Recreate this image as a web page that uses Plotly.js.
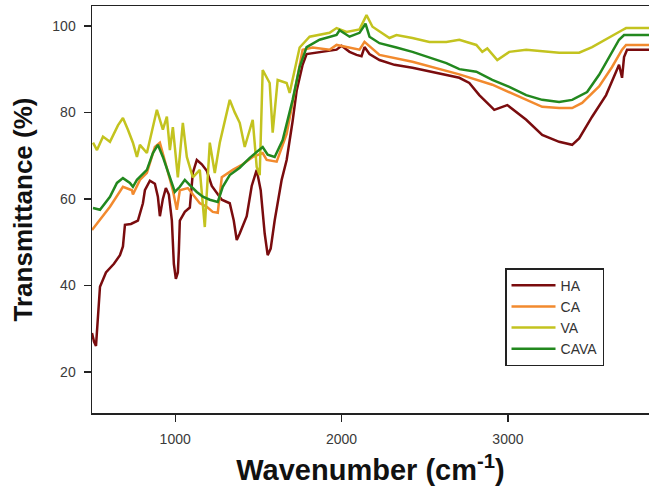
<!DOCTYPE html>
<html>
<head>
<meta charset="utf-8">
<script src="https://cdn.plot.ly/plotly-3.0.1.min.js"></script>
<style>
html,body{margin:0;padding:0;overflow:hidden;background:#fff;}
#chart{width:649px;height:489px;}
</style>
</head>
<body>
<div id="chart"></div>
<script>
// Wavenumber (cm-1) and transmittance (%)
const haX = [500,512,524,536,548,584,632,668,686,698,734,776,806,818,848,878,896,908,926,944,962,980,992,1004,1016,1022,1028,1058,1088,1106,1130,1160,1190,1220,1250,1280,1328,1352,1370,1388,1430,1460,1490,1514,1538,1556,1574,1598,1640,1670,1706,1730,1748,1766,1790,1868,1970,2000,2048,2090,2120,2138,2168,2228,2318,2426,2630,2708,2768,2828,2900,2918,2996,3110,3206,3308,3386,3428,3506,3590,3650,3668,3686,3698,3716,3850];
const haY = [29,27,26,33,39.7,43,45,47,49,54,54.2,55,59,62,64.2,63.5,60.5,56,60,62.5,61,55,45,41.5,43,48,55,57,58,66,69,68,66.5,63,61.4,59.8,59,55,50.5,52,56,63,66.7,62,52,47,48.5,55,64.4,69,78,85,88,91,93.5,94,94.5,95.4,94,93.3,93,95.1,93.5,92.1,91,90.3,88.7,88,86.8,84,81.3,80.6,81.7,78.3,74.8,73.2,72.5,74,79,84,89.4,91,88,92.8,94.5,94.5];

const caX = [500,608,686,740,746,788,830,878,908,938,986,1010,1028,1076,1118,1148,1190,1226,1256,1280,1346,1406,1466,1526,1550,1610,1670,1730,1766,1826,1928,1970,2048,2108,2138,2228,2426,2708,2906,3110,3206,3308,3386,3446,3548,3626,3686,3710,3850];
const caY = [52.8,58.2,62.8,62,61,64.4,66,72,73,69,62,57.5,62,62.5,60.5,59,58.2,57,56.8,65,66.7,68,69.7,70.6,69,68.6,75,86.8,94.5,95,94.5,95.6,95,94.5,96.3,93.3,91.7,88.8,86.4,82.9,81.3,81,81,82.2,86,90.5,94.5,95.6,95.6];

const vaX = [506,530,566,608,656,686,716,746,770,788,830,860,890,926,950,968,986,1016,1046,1070,1106,1148,1178,1208,1238,1268,1328,1358,1388,1418,1448,1466,1490,1508,1526,1568,1586,1616,1670,1688,1748,1808,1928,1970,2030,2108,2150,2186,2288,2330,2426,2528,2630,2708,2810,2846,2876,2936,3008,3110,3308,3428,3506,3608,3686,3710,3850];
const vaY = [73,71.3,74.4,73.2,77,78.7,76,73,69.7,72.5,70.6,76,80.6,76,79,71.3,76.6,65,77.6,69.7,65,66.7,53.5,73,66,73,82.9,80,77.6,72,76,78.3,67.4,65.5,89.8,86.8,75.3,87.5,86.8,84.5,95,97.5,98.4,99.5,98.6,99.2,102.5,99.8,97.2,97.9,97.2,96.3,96.3,96.8,95.6,94,94.8,92.1,94,94.5,93.8,93.8,95.1,97.2,99,99.5,99.5];

const cavaX = [506,548,608,650,686,728,746,770,830,866,896,926,968,998,1028,1058,1088,1130,1166,1208,1256,1286,1328,1388,1448,1490,1526,1556,1598,1646,1706,1748,1790,1868,1970,1988,2048,2108,2144,2168,2228,2330,2426,2630,2708,2810,2906,3008,3110,3206,3308,3386,3476,3548,3608,3668,3698,3850];
const cavaY = [57.9,57.5,60.5,63.7,64.8,63.7,62.8,64.4,66.7,70.6,72.5,69.7,65,61.6,62.8,64.4,63.2,61.6,60.5,59.8,59.3,62.8,65.5,67.2,69.5,70.9,72,70.2,69.7,73.6,82.9,90.5,95.1,96.8,97.9,99,97.5,98.4,100.5,97.5,96,95,94,91.4,90,89.4,87.5,85.9,84,82.9,82.4,82.9,84.7,88.7,92.8,96.8,97.9,97.9];

const xTicks = [1000, 2000, 3000];
const yTicks = [20, 40, 60, 80, 100];

const names = ["HA","CA","VA","CAVA"];
const colors = ["#7a0c0e","#f28a2e","#c3c31f","#22881e"];
const xs = [haX, caX, vaX, cavaX];
const ys = [haY, caY, vaY, cavaY];

const traces = names.map((n,i)=>({
  x: xs[i], y: ys[i], name: n, type: "scatter", mode: "lines",
  line: {color: colors[i], width: 2.5}
}));

const fam = "Liberation Sans, Arial, sans-serif";
const layout = {
  width: 649, height: 489,
  margin: {l: 92, r: 0, t: 6, b: 76},
  paper_bgcolor: "#fff", plot_bgcolor: "#fff",
  showlegend: true,
  font: {family: fam, color: "#333"},
  xaxis: {
    range: [500, 3848], tickvals: xTicks, ticks: "outside", ticklen: 7, tickwidth: 1.2, tickcolor: "#222",
    ticklabelstandoff: 6,
    showline: true, linecolor: "#222", linewidth: 1.5, mirror: true, showgrid: false, zeroline: false,
    tickfont: {size: 14, color: "#3a3a3a"},
    title: {text: "Wavenumber (cm<sup>-1</sup>)", font: {size: 29, color: "#111", family: fam, weight: "bold"}, standoff: 13}
  },
  yaxis: {
    range: [10.5, 104.6], tickvals: yTicks, ticks: "outside", ticklen: 7, tickwidth: 1.2, tickcolor: "#222",
    ticklabelstandoff: 5,
    showline: true, linecolor: "#222", linewidth: 1.5, mirror: false, showgrid: false, zeroline: false,
    tickfont: {size: 14, color: "#3a3a3a"},
    title: {text: "Transmittance (%)", font: {size: 26, color: "#111", family: fam, weight: "bold"}, standoff: 12}
  },
  legend: {
    x: 0.7415, y: 0.356, xanchor: "left", yanchor: "top",
    bordercolor: "#222", borderwidth: 1.5, bgcolor: "#fff",
    font: {size: 14, color: "#333"}, tracegroupgap: 0, itemwidth: 44
  }
};

Plotly.newPlot("chart", traces, layout, {displayModeBar: false, staticPlot: true});
</script>
</body>
</html>
